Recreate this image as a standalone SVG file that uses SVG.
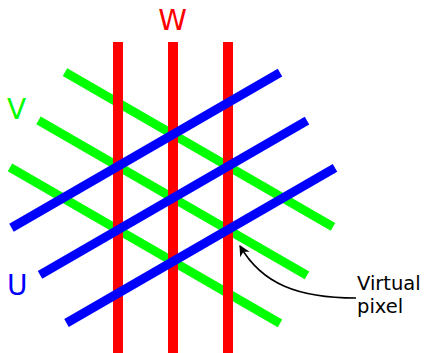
<svg xmlns="http://www.w3.org/2000/svg" width="433" height="353" viewBox="0 0 433 353">
<style>
.g{stroke:#00ff00;stroke-width:9;fill:none}
.r{stroke:#ff0000;stroke-width:10;fill:none}
.b{stroke:#0000ff;stroke-width:9;fill:none}
.lbl{font-family:"DejaVu Sans",sans-serif}
</style>
<defs>
<marker id="ah" viewBox="0 0 10 10" refX="9" refY="5" markerWidth="11" markerHeight="11" markerUnits="userSpaceOnUse" orient="auto-start-reverse">
<path d="M0,0 L10,5 L0,10 L3,5 z" fill="#000"/>
</marker>
</defs>
<rect width="433" height="353" fill="#fff"/>
<g id="V-lines">
<line class="g" x1="65" y1="72.15" x2="333" y2="226.88"/>
<line class="g" x1="38.5" y1="120.35" x2="307" y2="275.36"/>
<line class="g" x1="10" y1="167.4" x2="280" y2="323.28"/>
</g>
<g id="W-lines">
<line class="r" x1="118" y1="42" x2="118" y2="360"/>
<line class="r" x1="173" y1="42" x2="173" y2="360"/>
<line class="r" x1="228" y1="42" x2="228" y2="360"/>
</g>
<g id="U-lines">
<line class="b" x1="11.5" y1="227.74" x2="280" y2="72.72"/>
<line class="b" x1="40" y1="274.79" x2="307" y2="120.64"/>
<line class="b" x1="66.5" y1="322.99" x2="335" y2="167.97"/>
</g>
<g id="labels">
<text class="lbl" x="172.5" y="30" font-size="29" fill="#ff0000" text-anchor="middle">W</text>
<text class="lbl" x="7" y="119" font-size="28" fill="#00ff00">V</text>
<text class="lbl" x="7" y="295" font-size="28" fill="#0000ff">U</text>
</g>
<g id="connectors">
<path d="M240,246 C262,284 298,298 356,298" fill="none" stroke="#000" stroke-width="1.5" marker-start="url(#ah)"/>
</g>
<g id="virtual-pixel-label">
<text class="lbl" x="357" y="290" font-size="19.5" fill="#000">Virtual</text>
<text class="lbl" x="357" y="313" font-size="19.5" fill="#000">pixel</text>
</g>
</svg>
